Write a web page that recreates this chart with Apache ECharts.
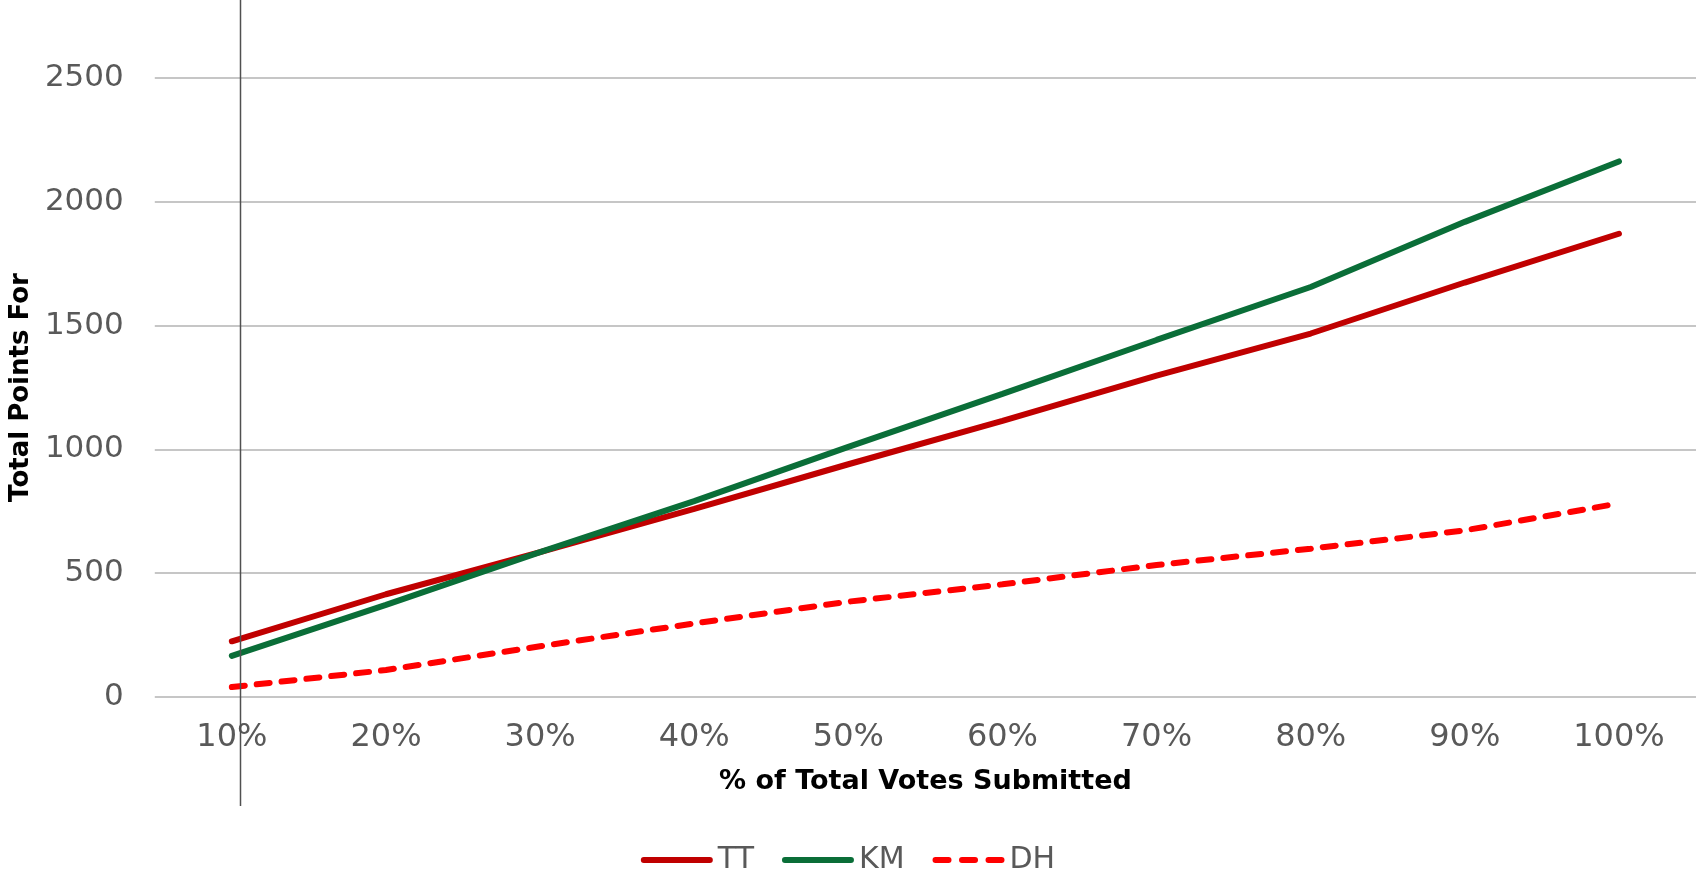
<!DOCTYPE html>
<html><head><meta charset="utf-8">
<script src="https://cdn.jsdelivr.net/npm/echarts@6/dist/echarts.min.js"></script>
<style>html,body{margin:0;padding:0;background:#fff}#c{width:1696px;height:875px}</style>
</head><body><div id="c"></div>
<script>
const categories = ['10%','20%','30%','40%','50%','60%','70%','80%','90%','100%'];
const tt = [225, 415, 585, 760, 940, 1115, 1298, 1468, 1674, 1871];
const km = [166, 372, 585, 791, 1010, 1224, 1442, 1656, 1919, 2163];
const dh = [40, 109, 205, 297, 385, 455, 533, 599, 673, 782];
const yTicks = [0, 500, 1000, 1500, 2000, 2500];

function rr(x0, x1) {
  return 'M' + (x0 + 3) + ',0H' + (x1 - 3) + 'A3,3 0 0 1 ' + (x1 - 3) + ',6H' + (x0 + 3) + 'A3,3 0 0 1 ' + (x0 + 3) + ',0Z';
}
const solidIcon = 'path://' + rr(0, 72);
const dashIcon = 'path://' + rr(0, 19) + rr(26.5, 45.5) + rr(53, 72);

const chart = echarts.init(document.getElementById('c'));
const font = 'DejaVu Sans, Verdana, sans-serif';
chart.setOption({
  backgroundColor: '#ffffff',
  animation: false,
  grid: { left: 151, right: 0, top: 78, bottom: 178 },
  legend: {
    top: 840, left: 'center', itemWidth: 72, itemHeight: 6, itemGap: 28,
    data: [{ name: 'TT', icon: solidIcon }, { name: 'KM', icon: solidIcon }, { name: 'DH', icon: dashIcon }],
    textStyle: { fontFamily: font, fontSize: 30, color: '#595959' }
  },
  xAxis: {
    type: 'category', data: categories, boundaryGap: true,
    name: '% of Total Votes Submitted', nameLocation: 'middle', nameGap: 71,
    nameTextStyle: { fontFamily: font, fontSize: 27, fontWeight: 'bold', color: '#000' },
    axisLine: { show: false }, axisTick: { show: false },
    axisLabel: { fontFamily: font, fontSize: 32, color: '#595959', margin: 25 }
  },
  yAxis: {
    type: 'value', min: yTicks[0], max: yTicks[yTicks.length - 1], interval: 500,
    name: 'Total Points For', nameLocation: 'middle', nameGap: 119,
    nameTextStyle: { fontFamily: font, fontSize: 26, fontWeight: 'bold', color: '#000' },
    axisLine: { show: false }, axisTick: { show: false },
    axisLabel: { fontFamily: font, fontSize: 31, color: '#595959', margin: 31, formatter: v => String(v) },
    splitLine: { lineStyle: { color: '#c6c6c6', width: 2 } }
  },
  series: [
    { name: 'TT', type: 'line', data: tt, symbol: 'none', color: '#C00000',
      lineStyle: { width: 6, color: '#C00000', cap: 'round' } },
    { name: 'KM', type: 'line', data: km, symbol: 'none', color: '#0A6E38',
      lineStyle: { width: 6, color: '#0A6E38', cap: 'round' } },
    { name: 'DH', type: 'line', data: dh, symbol: 'none', color: '#FF0000',
      lineStyle: { width: 6, color: '#FF0000', type: [13, 12], cap: 'round' } }
  ],
  graphic: [{
    type: 'line', z: 100,
    shape: { x1: 240.5, y1: 0, x2: 240.5, y2: 806 },
    style: { stroke: '#505050', lineWidth: 1.5 }
  }]
});
</script></body></html>
